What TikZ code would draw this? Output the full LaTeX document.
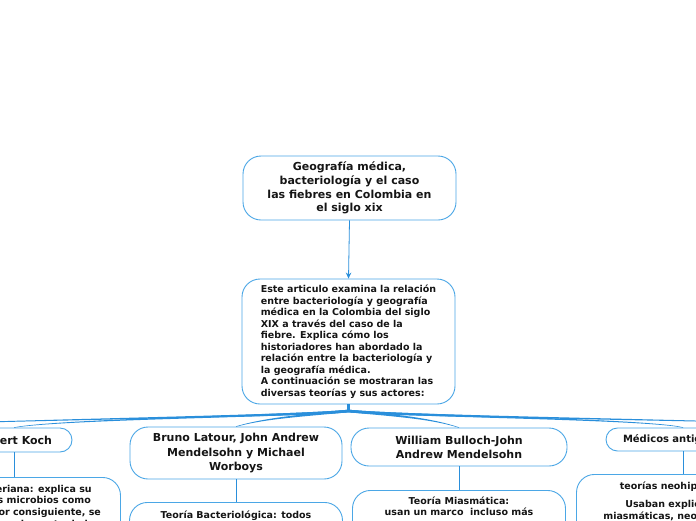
\documentclass[tikz,border=0pt]{standalone}
\usepackage{fontspec}
\setmainfont{DejaVu Sans}
\usetikzlibrary{calc,arrows.meta}
\definecolor{bord}{HTML}{4BA7E6}
\definecolor{connc}{HTML}{2A8FDB}
\definecolor{ink}{HTML}{151515}
\newcommand\bigtxt{\fontsize{11}{13.8}\selectfont\bfseries}
\newcommand\smtxt{\fontsize{9.5}{11.6}\selectfont\bfseries}
\newcommand\fst{\rule{0pt}{9pt}}
\newcommand\taper[4]{\fill[connc] ($#1+(0,-1.3)$) .. controls ($#2+(0,-1.1)$) and ($#3+(0,-0.5)$) .. ($#4+(0,-0.25)$) -- ($#4+(0,0.25)$) .. controls ($#3+(0,0.5)$) and ($#2+(0,1.1)$) .. ($#1+(0,1.3)$) -- cycle;}
\begin{document}
\begin{tikzpicture}[x=1pt,y=-1pt,
  box/.style={draw=bord,line width=0.9pt,fill=white,inner sep=0pt,text=ink},
  bigbox/.style={box,rounded corners=18pt,font=\bigtxt,align=center},
  pill/.style={box,font=\bigtxt},
  childbox/.style={box,rounded corners=18pt,minimum width=213pt,minimum height=160pt,anchor=north},
  childtxt/.style={anchor=north,inner sep=0pt,align=center,font=\smtxt,text=ink},
  link/.style={connc,line width=0.9pt}]
\useasboundingbox (0,0) rectangle (696,520);
\clip (0,0) rectangle (696,520);
\fill[white] (0,0) rectangle (696,520);

% main nodes
\node[bigbox,minimum width=213pt,minimum height=64pt] (title) at (349.5,188)
  {Geografía médica,\\ bacteriología y el caso\\ las fiebres en Colombia en\\ el siglo xix};
\node[box,rounded corners=18pt,minimum width=213pt,minimum height=125pt,align=left,font=\fontsize{9.5}{11.5}\selectfont\bfseries] (mid) at (348.5,341.5)
  {Este articulo examina la relación\\ entre bacteriología y geografía\\ médica en la Colombia del siglo\\ XIX a través del caso de la\\ fiebre. Explica cómo los\\ historiadores han abordado la\\ relación entre la bacteriología y\\ la geografía médica.\\ A continuación se mostraran las\\ diversas teorías y sus actores:};

\node[pill,rounded corners=12pt,minimum width=116pt,minimum height=24pt] (koch) at (14,440) {Robert Koch};
\node[bigbox,font=\fontsize{11}{14.5}\selectfont\bfseries,minimum width=212pt,minimum height=52pt] (bruno) at (236,453)
  {Bruno Latour, John Andrew\\ Mendelsohn y Michael\\ Worboys};
\node[bigbox,minimum width=216pt,minimum height=38pt] (william) at (459,447)
  {William Bulloch-John\\ Andrew Mendelsohn};
\node[pill,rounded corners=11.5pt,minimum width=154pt,minimum height=23pt,text width=120pt,align=left,font=\fontsize{10}{12}\selectfont\bfseries] (medicos) at (683,439.5) {Médicos antiguos};

% child boxes
\node[childbox] (kochc) at (14,477) {};
\node[childbox] (brunoc) at (236,502) {};
\node[childbox] (willc) at (459,490) {};
\node[childbox] (medc) at (683,474) {};

\node[childtxt] (kocht) at (14,483)
  {\fst Teoría Bacteriana: explica su\\ causa en los microbios como\\ patógenos. Por consiguiente, se\\ buscaba aislar el agente de la};
\node[childtxt] (brunot) at (236,509)
  {\fst Teoría Bacteriológica: todos};
\node[childtxt] (willt) at (459,495)
  {\fst Teoría Miasmática:\\ usan un marco\ \ incluso más};
\node[childtxt] (medt) at (683,480)
  {\fst teorías neohipocráticas\\[7pt] Usaban explicaciones\\ miasmáticas, neohipocráticas};

% connectors
\draw[connc,line width=0.8pt,-{Stealth[length=6pt,width=5.5pt]}] (title.south) -- (mid.north);
\coordinate (fork) at (348.5,411);
\coordinate (offL) at (-150,426);
\coordinate (offR) at (900,426);
\draw[connc,line width=2.6pt] (mid.south) -- ($(fork)+(0,1)$);
\taper{(fork)}{(295,416)}{(100,418)}{(offL)}
\taper{(fork)}{(295,416)}{(60,419)}{(koch.north)}
\taper{(fork)}{(295,416)}{(262,419)}{(bruno.north)}
\taper{(fork)}{(402,416)}{(433,419)}{(william.north)}
\taper{(fork)}{(402,416)}{(650,419)}{(medicos.north)}
\taper{(fork)}{(402,416)}{(600,418)}{(offR)}

\draw[link] (koch.south) -- (kochc.north);
\draw[link] (bruno.south) -- (brunoc.north);
\draw[link] (william.south) -- (willc.north);
\draw[link] (medicos.south) -- (medc.north);
\end{tikzpicture}
\end{document}
